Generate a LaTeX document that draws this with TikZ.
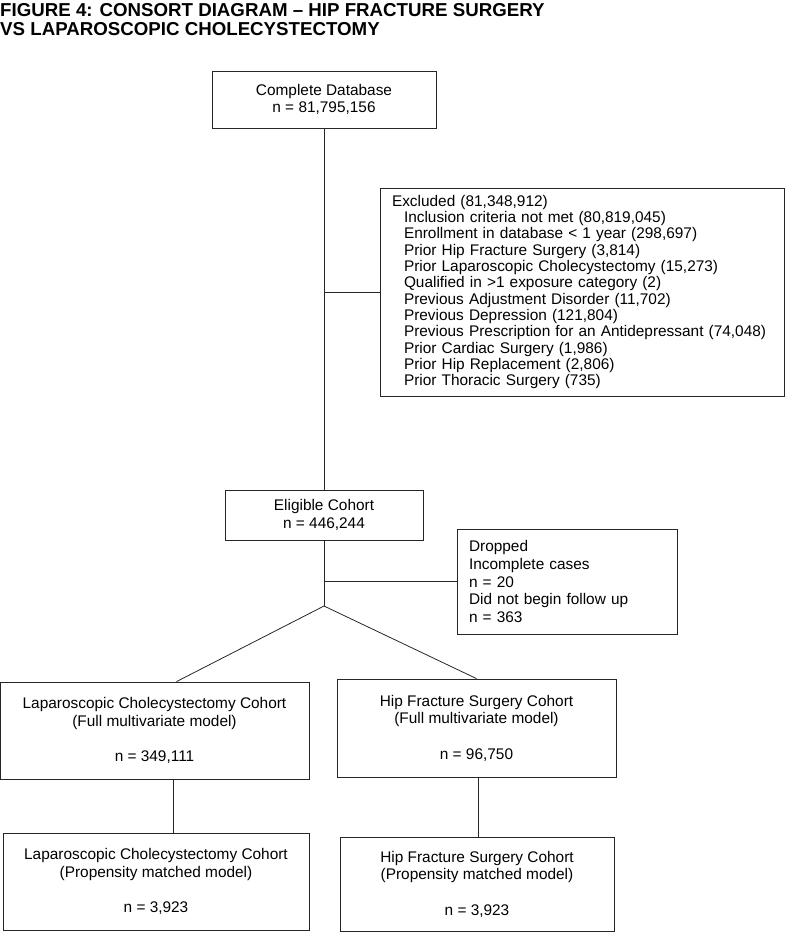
\documentclass[tikz,border=0pt]{standalone}
\usepackage{fontspec}
\setmainfont{Liberation Sans}
\usetikzlibrary{positioning}

\begin{document}
\begin{tikzpicture}[x=1pt,y=-1pt,
box/.style={draw=black!85,line width=0.8pt,align=center,inner sep=0pt,
font=\fontsize{15.4}{17.7}\selectfont},
listbox/.style={box,align=left,inner xsep=12pt},
link/.style={line width=0.8pt,draw=black!85}]
\useasboundingbox (0,0) rectangle (787,932);
\node[anchor=north west,align=left,inner sep=0pt,font=\bfseries\fontsize{18.7}{19}\selectfont] (title) at (0,3)
{FIGURE 4: CONSORT DIAGRAM -- HIP FRACTURE SURGERY\\VS LAPAROSCOPIC CHOLECYSTECTOMY};
\node[box,minimum width=224pt,minimum height=57pt] (database) at (324,99.5) {Complete Database\\n = 81,795,156};
\node[listbox,text width=380pt,minimum height=208pt,font=\fontsize{15.4}{16.3}\selectfont] (excluded) at (582,292) {Excluded (81,348,912)\\
\hspace*{12pt}Inclusion criteria not met (80,819,045)\\
\hspace*{12pt}Enrollment in database < 1 year (298,697)\\
\hspace*{12pt}Prior Hip Fracture Surgery (3,814)\\
\hspace*{12pt}Prior Laparoscopic Cholecystectomy (15,273)\\
\hspace*{12pt}Qualified in >1 exposure category (2)\\
\hspace*{12pt}Previous Adjustment Disorder (11,702)\\
\hspace*{12pt}Previous Depression (121,804)\\
\hspace*{12pt}Previous Prescription for an Antidepressant (74,048)\\
\hspace*{12pt}Prior Cardiac Surgery (1,986)\\
\hspace*{12pt}Prior Hip Replacement (2,806)\\
\hspace*{12pt}Prior Thoracic Surgery (735)};
\node[box,minimum width=198pt,minimum height=50pt] (eligible) at (324,515) {Eligible Cohort\\n = 446,244};
\node[listbox,text width=196pt,minimum height=105pt] (dropped) at (567,581.5) {Dropped\\Incomplete cases\\n = 20\\Did not begin follow up\\n = 363};
\coordinate (split) at (324,606);
\node[box,minimum width=309pt,minimum height=97pt] (lcfull) at (154.5,730.5) {Laparoscopic Cholecystectomy Cohort\\(Full multivariate model)\\[17.7pt]n = 349,111};
\node[box,minimum width=279pt,minimum height=98pt] (hffull) at (476.5,728) {Hip Fracture Surgery Cohort\\(Full multivariate model)\\[17.7pt]n = 96,750};
\node[box,minimum width=306pt,minimum height=97pt] (lcmatch) at (156,881.5) {Laparoscopic Cholecystectomy Cohort\\(Propensity matched model)\\[17.7pt]n = 3,923};
\node[box,minimum width=274pt,minimum height=94pt] (hfmatch) at (477,884) {Hip Fracture Surgery Cohort\\(Propensity matched model)\\[17.7pt]n = 3,923};
\draw[link] (database.south) -- (eligible.north);
\draw[link] (database.south |- excluded.west) -- (excluded.west);
\draw[link] (eligible.south) -- (split);
\draw[link] (eligible.south |- dropped.west) -- (dropped.west);
\draw[link] (split) -- ([xshift=22pt]lcfull.north);
\draw[link] (split) -- (hffull.north);
\draw[link] ([xshift=19pt]lcfull.south) -- ([xshift=19pt]lcfull.south |- lcmatch.north);
\draw[link] ([xshift=1.5pt]hffull.south) -- ([xshift=1.5pt]hffull.south |- hfmatch.north);
\end{tikzpicture}
\end{document}
